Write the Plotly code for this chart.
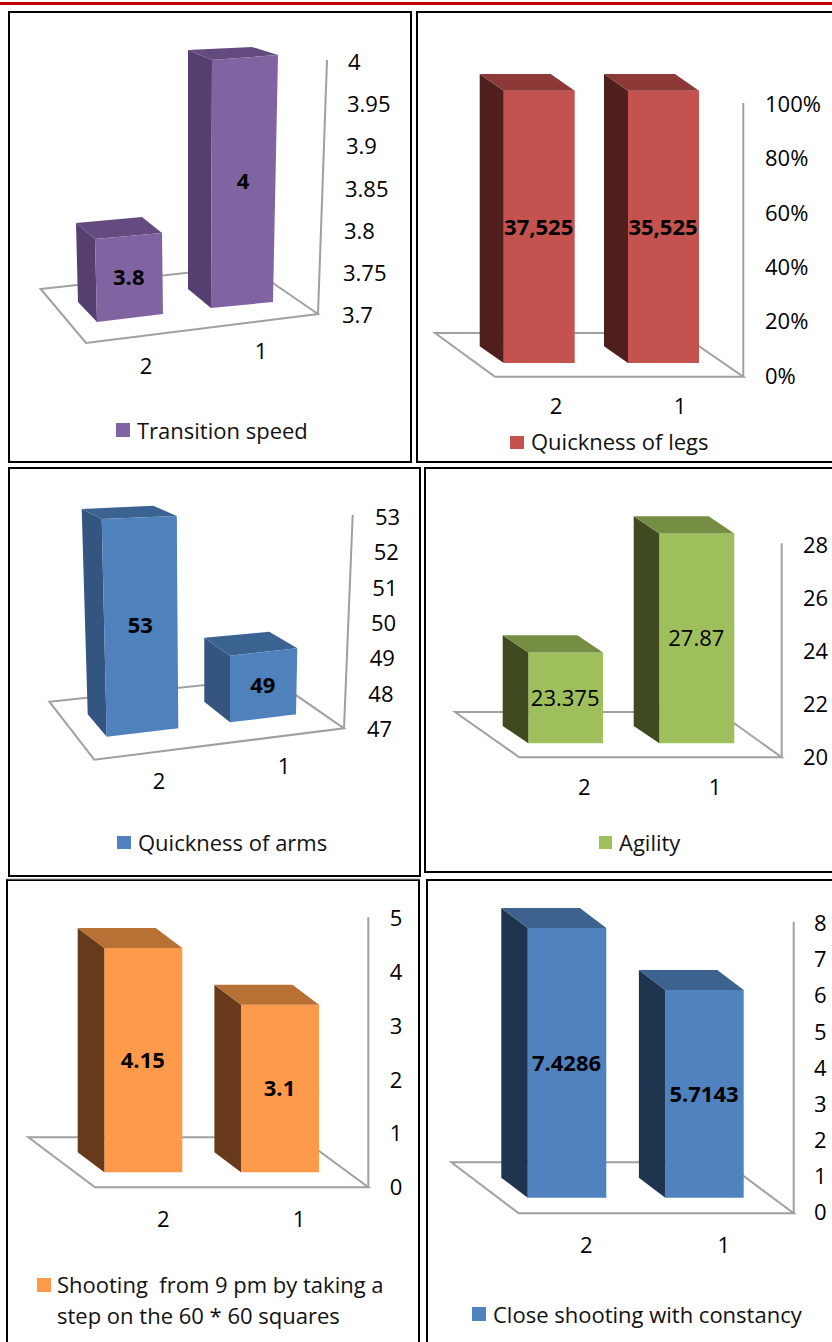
import plotly.graph_objects as go

W, H = 832, 1342

# ---------- data ----------
categories = ["2", "1"]
transition_speed = [3.8, 4]
quickness_legs_share = [100, 100]
quickness_legs_labels = ["37,525", "35,525"]
quickness_arms = [53, 49]
agility = [23.375, 27.87]
shooting_9pm = [4.15, 3.1]
close_shooting = [7.4286, 5.7143]

ticks_speed = [3.7, 3.75, 3.8, 3.85, 3.9, 3.95, 4]
ticks_speed_text = ["3.7", "3.75", "3.8", "3.85", "3.9", "3.95", "4"]
ticks_legs = [0, 20, 40, 60, 80, 100]
ticks_legs_text = ["0%", "20%", "40%", "60%", "80%", "100%"]
ticks_arms = [47, 48, 49, 50, 51, 52, 53]
ticks_agility = [20, 22, 24, 26, 28]
ticks_shooting = [0, 1, 2, 3, 4, 5]
ticks_close = [0, 1, 2, 3, 4, 5, 6, 7, 8]

# ---------- panel layout / style (pixels of the page) ----------
FONT = "Open Sans"
TICK_SIZE = 22
LEG_SIZE = 22
VAL_SIZE = 22
GREY = "#A0A0A0"
TEXT_NUDGE = 2.5

panels = [
    dict(name="Transition speed", vals=transition_speed, labels=["3.8", "4"],
         ticks=ticks_speed, ticktext=ticks_speed_text,
         box=(9, 12, 411, 462), yscale=(315, 62), xcat=(146, 261),
         xlab_y=(366, 351), tick_x=(342, 348), val_bold=True,
         col=("#8064A2", "#553F70", "#634B80"),
         floor=[(40.7, 289), (86, 343), (318, 314), (248, 266)], wall=(327, 60),
         skew=[dict(xl=95, xr=162, dl=8.3, dr=2.3, bl=(97, 322), br=(163, 314),
                    bt=(76, -16), brt=(142, -16), bb=(78, 302)),
               dict(xl=212, xr=278, dl=-2, dr=-7, bl=(211, 308), br=(273, 302),
                    bt=(188, -10), brt=(252, -8), bb=(188, 289))],
         swatch=(116, 423, 130, 437), legend=[(137, 430, "Transition speed")]),
    dict(name="Quickness of legs", vals=quickness_legs_share, labels=quickness_legs_labels,
         ticks=ticks_legs, ticktext=ticks_legs_text,
         box=(417, 12, 840, 462), yscale=(376, 104.3), xcat=(556, 680),
         xlab_y=406, tick_x=767, val_bold=True,
         col=("#C4534F", "#4E1F1D", "#8C3937"),
         floor=[(435, 333), (495, 376.7), (743.3, 376.7), (679.7, 333)], wall=(743.3, 103),
         shift=-13.5, base_py=363, fronts=[(503.7, 574.7), (628, 699)], depth=(-24, -16.7),
         swatch=(510, 436, 524, 449), legend=[(531, 441, "Quickness of legs")]),
    dict(name="Quickness of arms", vals=quickness_arms, labels=["53", "49"],
         ticks=ticks_arms, ticktext=[str(t) for t in ticks_arms],
         box=(9, 468, 420, 876), yscale=(729, 517), xcat=(159, 284),
         xlab_y=(780.7, 765.7), tick_x=(367, 375), val_bold=True,
         col=("#4F81BD", "#34557F", "#3A6391"),
         floor=[(49.3, 701.7), (94.3, 759.7), (344, 728.3), (271, 677.8)], wall=(352.7, 515),
         skew=[dict(xl=101.7, xr=176.7, dl=2, dr=-1, bl=(106.7, 736.7), br=(178.3, 728.3),
                    bt=(81.7, -10), brt=(153.3, -10.3), bb=(87.7, 714.3)),
               dict(xl=230, xr=297.3, dl=-2.6, dr=-10, bl=(230, 722.3), br=(296, 714.3),
                    bt=(204.3, -18), brt=(269.3, -16.6), bb=(204.3, 701.7))],
         swatch=(117, 836, 131, 849), legend=[(138, 842, "Quickness of arms")]),
    dict(name="Agility", vals=agility, labels=["23.375", "27.87"],
         ticks=ticks_agility, ticktext=[str(t) for t in ticks_agility],
         box=(425, 468, 840, 872), yscale=(757, 545), xcat=(584.3, 715),
         xlab_y=786.7, tick_x=805, val_bold=False,
         col=("#9FBE5C", "#404A20", "#768E43"),
         floor=[(455, 712), (519.3, 757.3), (781.7, 757.3), (718.5, 712)], wall=(781.7, 543.3),
         shift=-15, base_py=743.3, fronts=[(528.3, 603), (659.3, 734.3)], depth=(-25.6, -17.3),
         swatch=(599, 836, 612, 849), legend=[(619, 842, "Agility")]),
    dict(name="Shooting  from 9 pm by taking a step on the 60 * 60 squares",
         vals=shooting_9pm, labels=["4.15", "3.1"],
         ticks=ticks_shooting, ticktext=[str(t) for t in ticks_shooting],
         box=(7, 880, 419, 1350), yscale=(1187.7, 918), xcat=(163.3, 299),
         xlab_y=1219, tick_x=391.7, val_bold=True,
         col=("#FF9A4A", "#663A1B", "#B97034"),
         floor=[(28.3, 1137.3), (95, 1187.3), (368.3, 1187.3), (300.3, 1137.3)], wall=(368.3, 917.3),
         shift=-15.8, base_py=1172.3, fronts=[(104.3, 182.3), (241, 319)], depth=(-26.6, -20),
         swatch=(37, 1278, 51, 1292),
         legend=[(57, 1284, "Shooting  from 9 pm by taking a"), (57, 1315, "step on the 60 * 60 squares")]),
    dict(name="Close shooting with constancy", vals=close_shooting, labels=["7.4286", "5.7143"],
         ticks=ticks_close, ticktext=[str(t) for t in ticks_close],
         box=(427, 880, 840, 1350), yscale=(1212.7, 923.3), xcat=(586.3, 723.7),
         xlab_y=1245, tick_x=816, val_bold=True,
         col=("#5082C0", "#1F344F", "#3E6290"),
         floor=[(451.3, 1162.3), (518.7, 1213.3), (793.7, 1213.3), (725.3, 1162.3)], wall=(793.7, 921.7),
         shift=-16, base_py=1197.7, fronts=[(527.7, 606.3), (665.3, 743.7)], depth=(-26.4, -20),
         swatch=(472, 1307, 486, 1321), legend=[(493, 1314, "Close shooting with constancy")]),
]

fig = go.Figure()
shapes, annotations, axes = [], [], {}


def px(x):
    return x / W


def py(y):
    return 1 - y / H


def line_shape(points, color, width, close=False):
    path = "M " + " L ".join(f"{px(x):.5f},{py(y):.5f}" for x, y in points) + (" Z" if close else "")
    return dict(type="path", xref="paper", yref="paper", path=path, layer="below",
                line=dict(color=color, width=width))


for i, p in enumerate(panels, start=1):
    xn, yn = ("x", "y") if i == 1 else (f"x{i}", f"y{i}")
    bx0, by0, bx1, by1 = p["box"]
    vmin, vmax = p["ticks"][0], p["ticks"][-1]
    ybot, ytop = p["yscale"]
    c0, c1 = p["xcat"]

    def to_x(v, c0=c0, c1=c1):
        return (v - c0) / (c1 - c0)

    def to_y(v, ybot=ybot, ytop=ytop, vmin=vmin, vmax=vmax):
        return vmin + (ybot - v) / (ybot - ytop) * (vmax - vmin)

    def val_py(v, ybot=ybot, ytop=ytop, vmin=vmin, vmax=vmax):
        return ybot - (v - vmin) / (vmax - vmin) * (ybot - ytop)

    fx0, fx1 = max(bx0, 0), min(bx1, W)
    fy0, fy1 = by0, min(by1, H)
    skew = "skew" in p
    slanted_x = isinstance(p["xlab_y"], tuple)
    slanted_y = isinstance(p["tick_x"], tuple)

    # floor + wall + frame
    shapes.append(line_shape(p["floor"], GREY, 2, close=True))
    shapes.append(line_shape([p["floor"][2], p["wall"]], GREY, 2))
    shapes.append(line_shape([(bx0, by0), (bx1, by0), (bx1, by1), (bx0, by1)], "#000000", 2, close=True))

    # compute bar corners from the values
    side_xy, top_xy, fronts = ([], []), ([], []), []
    bar_x, bar_w, bar_base, bar_h = [], [], [], []
    for k, v in enumerate(p["vals"]):
        vy = val_py(v)
        if skew:
            s = p["skew"][k]
            tl = (s["xl"], vy + s["dl"])
            tr = (s["xr"], vy + s["dr"])
            bl, br = s["bl"], s["br"]
            bkl = (s["bt"][0], tl[1] + s["bt"][1])
            bkr = (s["brt"][0], tr[1] + s["brt"][1])
            bkb = s["bb"]
        else:
            xl, xr = p["fronts"][k]
            dx, dy = p["depth"]
            topy = vy + p["shift"]
            tl, tr = (xl, topy), (xr, topy)
            bl, br = (xl, p["base_py"]), (xr, p["base_py"])
            bkl = (xl + dx, topy + dy)
            bkr = (xr + dx, topy + dy)
            bkb = (xl + dx, p["base_py"] + dy)
        for pts, store in (([bkl, tl, bl, bkb], side_xy), ([bkl, bkr, tr, tl], top_xy)):
            store[0].extend([to_x(a) for a, _ in pts] + [to_x(pts[0][0]), None])
            store[1].extend([to_y(b) for _, b in pts] + [to_y(pts[0][1]), None])
        fronts.append((tl, tr, br, bl))
        il, ir = max(tl[0], bl[0]), min(tr[0], br[0])
        it, ib = max(tl[1], tr[1]), min(bl[1], br[1])
        bar_x.append(to_x((il + ir) / 2))
        bar_w.append((ir - il) / (c1 - c0))
        bar_base.append(to_y(ib))
        bar_h.append(to_y(it) - to_y(ib))

    fig.add_trace(go.Bar(x=bar_x, y=bar_h, base=bar_base, width=bar_w, name=p["name"],
                         marker=dict(color=p["col"][0], line=dict(width=0)),
                         xaxis=xn, yaxis=yn, showlegend=False, hoverinfo="skip"))
    for store, col in ((side_xy, p["col"][1]), (top_xy, p["col"][2])):
        fig.add_trace(go.Scatter(x=store[0], y=store[1], mode="lines", fill="toself", fillcolor=col,
                                 line=dict(width=0, color=col), xaxis=xn, yaxis=yn,
                                 showlegend=False, hoverinfo="skip"))
    if skew:
        fx, fy = [], []
        for q in fronts:
            fx += [to_x(a) for a, _ in q] + [to_x(q[0][0]), None]
            fy += [to_y(b) for _, b in q] + [to_y(q[0][1]), None]
        fig.add_trace(go.Scatter(x=fx, y=fy, mode="lines", fill="toself", fillcolor=p["col"][0],
                                 line=dict(width=0, color=p["col"][0]), xaxis=xn, yaxis=yn,
                                 showlegend=False, hoverinfo="skip"))

    # value labels at the centre of each front face
    cx = [to_x(sum(a for a, _ in q) / 4 - 0.5) for q in fronts]
    cy = [to_y(sum(b for _, b in q) / 4 + TEXT_NUDGE) for q in fronts]
    fig.add_trace(go.Scatter(x=cx, y=cy, mode="text", text=p["labels"], textposition="middle center",
                             textfont=dict(family=FONT, size=VAL_SIZE, color="#000000",
                                           weight=700 if p["val_bold"] else 400),
                             xaxis=xn, yaxis=yn, showlegend=False, hoverinfo="skip"))

    # tick labels
    if slanted_y:
        tx0, tx1 = p["tick_x"]
        fig.add_trace(go.Scatter(
            x=[to_x(tx0 + (t - vmin) / (vmax - vmin) * (tx1 - tx0)) for t in p["ticks"]],
            y=[to_y(val_py(t) + TEXT_NUDGE) for t in p["ticks"]],
            mode="text", text=p["ticktext"], textposition="middle right",
            textfont=dict(family=FONT, size=TICK_SIZE, color="#000000"),
            xaxis=xn, yaxis=yn, showlegend=False, hoverinfo="skip"))
    if slanted_x:
        fig.add_trace(go.Scatter(
            x=[0, 1], y=[to_y(v + TEXT_NUDGE) for v in p["xlab_y"]], mode="text", text=categories,
            textposition="middle center", textfont=dict(family=FONT, size=TICK_SIZE, color="#000000"),
            xaxis=xn, yaxis=yn, showlegend=False, hoverinfo="skip"))

    xkey = "xaxis" if i == 1 else f"xaxis{i}"
    ykey = "yaxis" if i == 1 else f"yaxis{i}"
    axes[xkey] = dict(domain=[px(fx0), px(fx1)], range=[to_x(fx0), to_x(fx1)], fixedrange=True,
                      showgrid=False, zeroline=False, showline=False, ticks="",
                      tickmode="array", tickvals=[0, 1], ticktext=categories,
                      showticklabels=not slanted_x, tickfont=dict(family=FONT, size=TICK_SIZE, color="#000000"),
                      anchor="free" if not slanted_x else yn,
                      position=py(p["xlab_y"] - 15) if not slanted_x else 0)
    axes[ykey] = dict(domain=[py(fy1), py(fy0)], range=[to_y(fy1), to_y(fy0)], fixedrange=True,
                      showgrid=False, zeroline=False, showline=False, ticks="",
                      tickmode="array", tickvals=p["ticks"], ticktext=p["ticktext"], side="right",
                      showticklabels=not slanted_y, tickfont=dict(family=FONT, size=TICK_SIZE, color="#000000"),
                      anchor="free" if not slanted_y else xn,
                      position=px(p["tick_x"] - 3) if not slanted_y else 0)

    # legend
    sx0, sy0, sx1, sy1 = p["swatch"]
    shapes.append(dict(type="rect", xref="paper", yref="paper", x0=px(sx0), x1=px(sx1),
                       y0=py(sy1), y1=py(sy0), line=dict(width=0), fillcolor=p["col"][0]))
    for lx, ly, text in p["legend"]:
        annotations.append(dict(xref="paper", yref="paper", x=px(lx), y=py(ly), text=text,
                                xanchor="left", yanchor="middle", showarrow=False, align="left",
                                xshift=-2, font=dict(family=FONT, size=LEG_SIZE, color="#111111")))

# red rule along the top of the page
shapes.append(dict(type="rect", xref="paper", yref="paper", x0=0, x1=1, y0=py(5), y1=py(2),
                   line=dict(width=0), fillcolor="#C00000"))
shapes.append(line_shape([(7, 879), (420, 879)], GREY, 1))

fig.update_layout(width=W, height=H, margin=dict(l=0, r=0, t=0, b=0), paper_bgcolor="#FFFFFF",
                  plot_bgcolor="rgba(0,0,0,0)", shapes=shapes, annotations=annotations,
                  showlegend=False, barmode="overlay", **axes)

fig.write_html("out.html", config=dict(displayModeBar=False),
               post_script="document.body.style.margin='0';")
